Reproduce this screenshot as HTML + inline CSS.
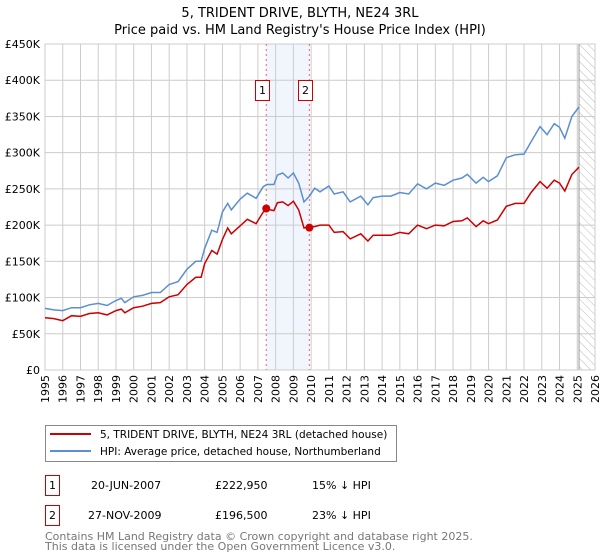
<!DOCTYPE html>
<html><head><meta charset="utf-8"><style>
body{margin:0;background:#fff;font-family:"DejaVu Sans","Liberation Sans",sans-serif;}
svg{display:block}
</style></head><body>
<svg id="chart" width="600" height="560" xmlns="http://www.w3.org/2000/svg">
<defs>
<pattern id="hatch" width="6" height="6" patternUnits="userSpaceOnUse" patternTransform="rotate(-45)">
<line x1="0" y1="0" x2="0" y2="6" stroke="#bbb" stroke-width="1"/>
</pattern>
</defs>
<text x="300" y="17" text-anchor="middle" font-size="13">5, TRIDENT DRIVE, BLYTH, NE24 3RL</text>
<text x="300" y="34" text-anchor="middle" font-size="13">Price paid vs. HM Land Registry's House Price Index (HPI)</text>
<g id="plot"></g>
<g>
<rect x="45.5" y="425.5" width="351" height="36" fill="#fff" stroke="#888"/>
<line x1="50" y1="434" x2="91" y2="434" stroke="#cc0000" stroke-width="2"/>
<text x="100" y="438" font-size="10.5">5, TRIDENT DRIVE, BLYTH, NE24 3RL (detached house)</text>
<line x1="50" y1="451" x2="91" y2="451" stroke="#5b8fd0" stroke-width="2"/>
<text x="100" y="455" font-size="10.5">HPI: Average price, detached house, Northumberland</text>
</g>
<g font-size="11">
<rect x="45.5" y="475.5" width="14" height="20" fill="#fff" stroke="#cc0000"/>
<text x="52.5" y="489" text-anchor="middle">1</text>
<text x="91" y="489">20-JUN-2007</text>
<text x="215" y="489">£222,950</text>
<text x="312" y="489">15% ↓ HPI</text>
<rect x="45.5" y="505.5" width="14" height="20" fill="#fff" stroke="#cc0000"/>
<text x="52.5" y="519" text-anchor="middle">2</text>
<text x="88" y="519">27-NOV-2009</text>
<text x="215" y="519">£196,500</text>
<text x="312" y="519">23% ↓ HPI</text>
</g>
<text x="45" y="540" font-size="11" fill="#777">Contains HM Land Registry data © Crown copyright and database right 2025.</text>
<text x="45" y="550" font-size="11" fill="#777">This data is licensed under the Open Government Licence v3.0.</text>
</svg>
<script>
const hpiT=[1995,1995.5,1996,1996.5,1997,1997.5,1998,1998.5,1999,1999.3,1999.5,2000,2000.5,2001,2001.5,2002,2002.5,2003,2003.5,2003.8,2004,2004.4,2004.7,2005,2005.3,2005.5,2006,2006.4,2006.9,2007.3,2007.5,2007.9,2008.1,2008.4,2008.7,2009,2009.3,2009.6,2009.9,2010.2,2010.5,2011,2011.3,2011.8,2012.2,2012.8,2013.2,2013.5,2014,2014.5,2015,2015.5,2016,2016.5,2017,2017.5,2018,2018.5,2018.8,2019.3,2019.7,2020,2020.5,2021,2021.5,2022,2022.4,2022.9,2023.3,2023.7,2024,2024.3,2024.7,2025.1];
const hpiV=[85,83,82,86,86,90,92,89,96,99,93,101,103,107,107,118,122,139,150,150,168,193,190,218,230,221,236,244,237,253,256,256,269,272,265,272,258,232,240,251,246,254,243,246,232,240,228,238,240,240,245,243,257,250,258,255,262,265,270,258,266,260,268,293,297,298,315,336,325,340,335,320,350,363];
const propV=[72,71,68,75,74,78,79,76,82,84,79,86,88,92,93,101,104,118,128,128,147,165,160,180,196,188,199,208,202,218,222,220,231,232,227,233,221,196,198,198,200,200,190,191,181,188,178,186,186,186,190,188,200,195,200,199,205,206,210,198,206,202,207,226,230,230,245,260,251,262,258,247,270,280];
const saleT=[2007.47,2009.9];
const saleV=[222.95,196.5];
const yTicks=[0,50,100,150,200,250,300,350,400,450];
const yLabels=["£0","£50K","£100K","£150K","£200K","£250K","£300K","£350K","£400K","£450K"];
const xYears=[1995,1996,1997,1998,1999,2000,2001,2002,2003,2004,2005,2006,2007,2008,2009,2010,2011,2012,2013,2014,2015,2016,2017,2018,2019,2020,2021,2022,2023,2024,2025,2026];
const L=45,R=595,T=44,B=370;
const x=t=>L+(t-1995)/(2026-1995)*(R-L);
const y=v=>B-v/450*(B-T);
const NS="http://www.w3.org/2000/svg";
const g=document.getElementById('plot');
function mk(tag,at){const e=document.createElementNS(NS,tag);for(const k in at)e.setAttribute(k,at[k]);g.appendChild(e);return e;}
let e;
e=mk('rect',{x:x(saleT[0]),y:T,width:x(saleT[1])-x(saleT[0]),height:B-T,fill:'#eef3fc',opacity:0.8});


e=mk('rect',{x:x(2025.1),y:T,width:R-x(2025.1),height:B-T,fill:'url(#hatch)'});


yTicks.forEach((v,i)=>{
 e=mk('line',{x1:L,x2:R,y1:y(v),y2:y(v),stroke:'#ccc','stroke-width':1});
 
 
 e=mk('text',{x:L-5,y:y(v)+4,'text-anchor':'end','font-size':11});
 e.textContent=yLabels[i];
 
 
});
xYears.forEach(t=>{
 e=mk('line',{x1:x(t),x2:x(t),y1:T,y2:B,stroke:'#ccc','stroke-width':1});
 
 
 e=mk('text',{x:0,y:0,'font-size':11,'text-anchor':'end',transform:`translate(${x(t)+4},${B+5}) rotate(-90)`});
 e.textContent=t;
 
 
});
e=mk('line',{x1:x(2025.1),x2:x(2025.1),y1:T,y2:B,stroke:'#999','stroke-width':1});


e=mk('rect',{x:L,y:T,width:R-L,height:B-T,fill:'none',stroke:'#ccc'});


saleT.forEach((t,i)=>{
 e=mk('line',{x1:x(t),x2:x(t),y1:T,y2:B,stroke:'#e66','stroke-width':1,'stroke-dasharray':'2,3'});
 
 
 e=mk('rect',{x:Math.round(x(t))-10.5,y:80.5,width:14,height:20,fill:'#fff',stroke:'#cc0000'});
 
 
 e=mk('text',{x:Math.round(x(t))-3.5,y:94,'text-anchor':'middle','font-size':11});
 e.textContent=String(i+1);
 
 
});
const path=vals=>vals.map((v,i)=>(i?'L':'M')+x(hpiT[i]).toFixed(1)+','+y(v).toFixed(1)).join('');
e=mk('path',{d:path(hpiV),fill:'none',stroke:'#5b8fd0','stroke-width':1.5});


e=mk('path',{d:path(propV),fill:'none',stroke:'#cc0000','stroke-width':1.5});


saleT.forEach((t,i)=>{
 e=mk('circle',{cx:x(t),cy:y(saleV[i]),r:4,fill:'#cc0000'});
 
 
});
</script>
</body></html>
